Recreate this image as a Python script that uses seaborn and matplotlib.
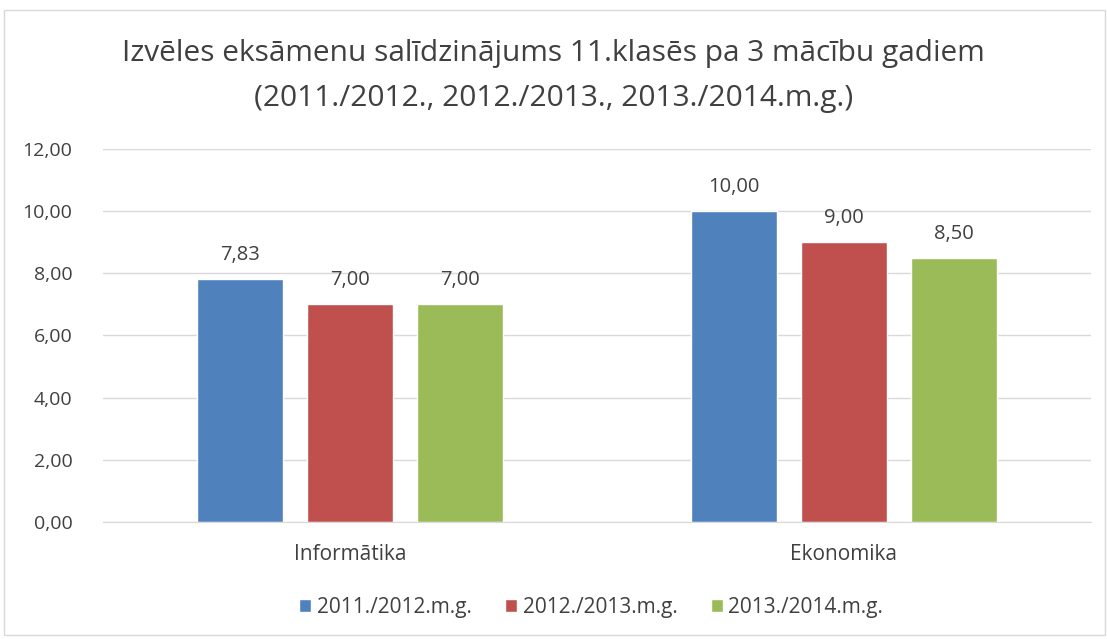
import pandas as pd
import matplotlib
matplotlib.use("Agg")
import matplotlib.pyplot as plt
import seaborn as sns
from matplotlib.patches import Rectangle

# data
subjects = ["Informātika", "Ekonomika"]
years = ["2011./2012.m.g.", "2012./2013.m.g.", "2013./2014.m.g."]
vals_2012 = [7.83, 10.00]
vals_2013 = [7.00, 9.00]
vals_2014 = [7.00, 8.50]
colors = ["#4F81BD", "#C0504D", "#9BBB59"]

rows = []
for yr, vals in zip(years, [vals_2012, vals_2013, vals_2014]):
    for subj, v in zip(subjects, vals):
        rows.append({"subject": subj, "year": yr, "value": v})
df = pd.DataFrame(rows)

sns.set_style("white")
plt.rcParams["font.family"] = ["Open Sans", "DejaVu Sans"]
txt = "#404040"

fig = plt.figure(figsize=(11.07, 6.39), dpi=100)
ax = fig.add_axes([0.093, 0.183, 0.8925, 0.584])

sns.barplot(data=df, x="subject", y="value", hue="year", order=subjects,
            hue_order=years, palette=colors, width=0.668, gap=0.215,
            saturation=1, ax=ax, legend=True)

for cont in ax.containers:
    ax.bar_label(cont, labels=[f"{v:.2f}".replace(".", ",") for v in cont.datavalues],
                 padding=10, fontsize=14.5, color=txt)

ax.set_ylim(0, 12)
ax.set_yticks(range(0, 13, 2))
ax.set_yticklabels([f"{t:.2f}".replace(".", ",") for t in range(0, 13, 2)])
ax.grid(axis="y", color="#D9D9D9", linewidth=1)
ax.set_axisbelow(True)
for s in ["top", "right", "left"]:
    ax.spines[s].set_visible(False)
ax.spines["bottom"].set_color("#D9D9D9")
ax.tick_params(axis="y", length=0, labelsize=14, labelcolor=txt, pad=22)
ax.tick_params(axis="x", length=0, labelsize=15, labelcolor=txt, pad=16)
ax.set_xlabel("")
ax.set_ylabel("")

ax.legend(loc="center", bbox_to_anchor=(0.494, -0.229), ncol=3, frameon=False,
          fontsize=15, handlelength=0.6, handleheight=0.6, handletextpad=0.25,
          columnspacing=1.6, labelcolor=txt)

fig.text(0.5, 0.916, "Izvēles eksāmenu salīdzinājums 11.klasēs pa 3 mācību gadiem",
         ha="center", va="center", fontsize=21.5, color=txt)
fig.text(0.5, 0.846, "(2011./2012., 2012./2013., 2013./2014.m.g.)",
         ha="center", va="center", fontsize=21.5, color=txt)

fig.patches.append(Rectangle((0.004, 0.006), 0.994, 0.978, transform=fig.transFigure,
                             fill=False, edgecolor="#D9D9D9", linewidth=1))

fig.savefig("out.png", dpi=100)
